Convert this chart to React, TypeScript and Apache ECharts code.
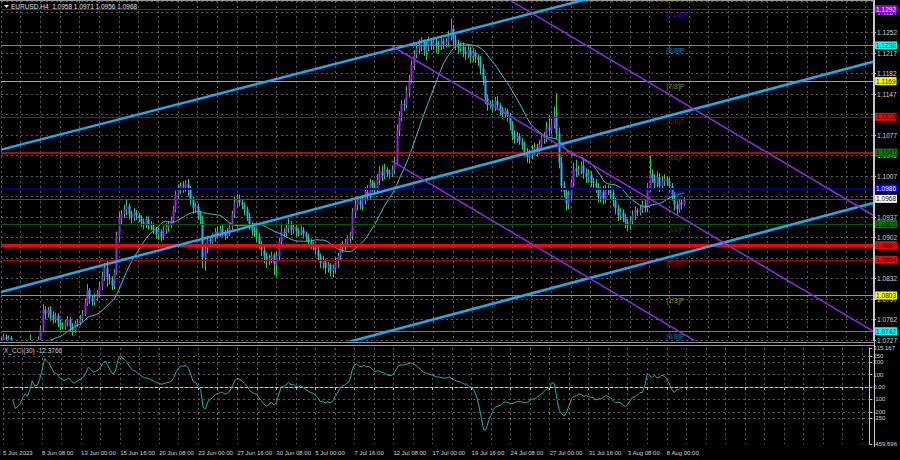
import React, { useEffect, useRef } from 'react';
import * as echarts from 'echarts';

// ---------- DATA ----------
// H4 candles: [open, close, low, high]
const candles: number[][] = [
[1.0722,1.0726,1.0716,1.0731],[1.0726,1.0733,1.0722,1.0738],[1.0733,1.0728,1.0724,1.0737],[1.0728,1.0731,1.0723,1.0735],
[1.0731,1.0719,1.0714,1.0734],[1.0719,1.0708,1.0700,1.0722],[1.0708,1.0695,1.0687,1.0712],[1.0695,1.0690,1.0678,1.0700],
[1.0690,1.0698,1.0684,1.0705],[1.0698,1.0702,1.0690,1.0710],[1.0702,1.0693,1.0686,1.0708],[1.0693,1.0712,1.0688,1.0718],
[1.0712,1.0725,1.0705,1.0736],[1.0725,1.0712,1.0702,1.0728],[1.0712,1.0716,1.0705,1.0722],[1.0716,1.0728,1.0710,1.0733],
[1.0728,1.0745,1.0724,1.0752],[1.0745,1.0778,1.0740,1.0788],[1.0778,1.0772,1.0762,1.0785],[1.0772,1.0778,1.0766,1.0783],
[1.0778,1.0770,1.0760,1.0785],[1.0770,1.0762,1.0755,1.0776],[1.0762,1.0769,1.0756,1.0774],[1.0769,1.0755,1.0749,1.0773],
[1.0755,1.0752,1.0744,1.0762],[1.0752,1.0750,1.0745,1.0757],[1.0750,1.0757,1.0745,1.0762],[1.0757,1.0762,1.0750,1.0768],
[1.0762,1.0750,1.0741,1.0766],[1.0750,1.0744,1.0734,1.0756],[1.0744,1.0754,1.0738,1.0760],[1.0754,1.0757,1.0749,1.0763],
[1.0757,1.0763,1.0752,1.0770],[1.0763,1.0772,1.0758,1.0778],[1.0772,1.0790,1.0768,1.0798],[1.0790,1.0812,1.0785,1.0823],
[1.0812,1.0798,1.0788,1.0816],[1.0798,1.0792,1.0785,1.0803],[1.0792,1.0800,1.0786,1.0806],[1.0800,1.0806,1.0794,1.0812],
[1.0806,1.0818,1.0800,1.0826],[1.0818,1.0836,1.0812,1.0844],[1.0836,1.0850,1.0828,1.0858],[1.0850,1.0834,1.0818,1.0864],
[1.0834,1.0830,1.0822,1.0840],[1.0830,1.0820,1.0812,1.0836],[1.0820,1.0842,1.0814,1.0848],[1.0842,1.0905,1.0838,1.0912],
[1.0905,1.0935,1.0895,1.0947],[1.0935,1.0942,1.0925,1.0949],[1.0942,1.0950,1.0935,1.0958],[1.0950,1.0956,1.0940,1.0966],
[1.0956,1.0942,1.0933,1.0960],[1.0942,1.0936,1.0926,1.0948],[1.0936,1.0945,1.0930,1.0952],[1.0945,1.0940,1.0932,1.0949],
[1.0940,1.0935,1.0928,1.0944],[1.0935,1.0928,1.0920,1.0940],[1.0928,1.0925,1.0916,1.0934],[1.0925,1.0933,1.0918,1.0938],
[1.0933,1.0924,1.0915,1.0938],[1.0924,1.0920,1.0914,1.0930],[1.0920,1.0915,1.0908,1.0926],[1.0915,1.0908,1.0900,1.0920],
[1.0908,1.0912,1.0898,1.0918],[1.0912,1.0903,1.0895,1.0916],[1.0903,1.0915,1.0898,1.0922],[1.0915,1.0920,1.0908,1.0926],
[1.0920,1.0925,1.0912,1.0930],[1.0925,1.0932,1.0918,1.0938],[1.0932,1.0950,1.0926,1.0956],[1.0950,1.0975,1.0945,1.0982],
[1.0975,1.0985,1.0966,1.0993],[1.0985,1.0990,1.0976,1.0996],[1.0990,1.0988,1.0978,1.0998],[1.0988,1.0994,1.0980,1.1000],
[1.0994,1.0985,1.0972,1.1002],[1.0985,1.0966,1.0958,1.0990],[1.0966,1.0952,1.0942,1.0972],[1.0952,1.0955,1.0944,1.0962],
[1.0955,1.0940,1.0932,1.0960],[1.0940,1.0932,1.0925,1.0946],[1.0932,1.0868,1.0850,1.0938],[1.0868,1.0885,1.0845,1.0892],
[1.0885,1.0898,1.0875,1.0905],[1.0898,1.0895,1.0888,1.0904],[1.0895,1.0902,1.0888,1.0910],[1.0902,1.0912,1.0895,1.0918],
[1.0912,1.0908,1.0900,1.0920],[1.0908,1.0916,1.0903,1.0922],[1.0916,1.0910,1.0904,1.0924],[1.0910,1.0905,1.0898,1.0915],
[1.0905,1.0912,1.0900,1.0918],[1.0912,1.0920,1.0905,1.0926],[1.0920,1.0942,1.0915,1.0948],[1.0942,1.0960,1.0935,1.0972],
[1.0960,1.0968,1.0952,1.0976],[1.0968,1.0962,1.0955,1.0975],[1.0962,1.0958,1.0950,1.0968],[1.0958,1.0950,1.0940,1.0962],
[1.0950,1.0938,1.0930,1.0955],[1.0938,1.0922,1.0915,1.0944],[1.0922,1.0915,1.0905,1.0928],[1.0915,1.0912,1.0903,1.0920],
[1.0912,1.0905,1.0895,1.0918],[1.0905,1.0890,1.0882,1.0910],[1.0890,1.0880,1.0870,1.0896],[1.0880,1.0870,1.0858,1.0886],
[1.0870,1.0862,1.0850,1.0876],[1.0862,1.0866,1.0855,1.0872],[1.0866,1.0872,1.0858,1.0878],[1.0872,1.0856,1.0838,1.0876],
[1.0856,1.0870,1.0835,1.0878],[1.0870,1.0895,1.0862,1.0902],[1.0895,1.0912,1.0888,1.0926],[1.0912,1.0910,1.0902,1.0918],
[1.0910,1.0918,1.0904,1.0926],[1.0918,1.0925,1.0910,1.0935],[1.0925,1.0915,1.0906,1.0930],[1.0915,1.0920,1.0908,1.0926],
[1.0920,1.0912,1.0903,1.0924],[1.0912,1.0910,1.0904,1.0918],[1.0910,1.0915,1.0905,1.0922],[1.0915,1.0908,1.0900,1.0920],
[1.0908,1.0902,1.0895,1.0912],[1.0902,1.0895,1.0888,1.0908],[1.0895,1.0890,1.0882,1.0900],[1.0890,1.0888,1.0880,1.0894],
[1.0888,1.0880,1.0872,1.0892],[1.0880,1.0870,1.0862,1.0886],[1.0870,1.0858,1.0850,1.0875],[1.0858,1.0862,1.0848,1.0870],
[1.0862,1.0850,1.0840,1.0866],[1.0850,1.0855,1.0842,1.0860],[1.0855,1.0845,1.0836,1.0858],[1.0845,1.0850,1.0834,1.0856],
[1.0850,1.0862,1.0840,1.0868],[1.0862,1.0870,1.0850,1.0876],[1.0870,1.0885,1.0862,1.0892],[1.0885,1.0888,1.0876,1.0896],
[1.0888,1.0893,1.0880,1.0900],[1.0893,1.0900,1.0885,1.0906],[1.0900,1.0905,1.0892,1.0912],[1.0905,1.0945,1.0898,1.0952],
[1.0945,1.0958,1.0935,1.0966],[1.0958,1.0965,1.0948,1.0972],[1.0965,1.0958,1.0950,1.0970],[1.0958,1.0968,1.0948,1.0975],
[1.0968,1.0980,1.0958,1.0988],[1.0980,1.0975,1.0965,1.0992],[1.0975,1.0995,1.0968,1.1002],[1.0995,1.0990,1.0980,1.1000],
[1.0990,1.0985,1.0975,1.0996],[1.0985,1.1000,1.0978,1.1010],[1.1000,1.1015,1.0992,1.1024],[1.1015,1.1008,1.0998,1.1025],
[1.1008,1.1018,1.1002,1.1028],[1.1018,1.1012,1.1005,1.1022],[1.1012,1.1010,1.1002,1.1018],[1.1010,1.1018,1.1005,1.1025],
[1.1018,1.1030,1.1010,1.1040],[1.1030,1.1085,1.1025,1.1095],[1.1085,1.1110,1.1075,1.1118],[1.1110,1.1130,1.1100,1.1136],
[1.1130,1.1128,1.1118,1.1138],[1.1128,1.1150,1.1122,1.1160],[1.1150,1.1172,1.1142,1.1180],[1.1172,1.1196,1.1165,1.1205],
[1.1196,1.1215,1.1188,1.1222],[1.1215,1.1225,1.1208,1.1232],[1.1225,1.1230,1.1215,1.1240],[1.1230,1.1235,1.1220,1.1244],
[1.1235,1.1222,1.1212,1.1240],[1.1222,1.1228,1.1205,1.1236],[1.1228,1.1238,1.1220,1.1245],[1.1238,1.1230,1.1222,1.1242],
[1.1230,1.1235,1.1222,1.1240],[1.1235,1.1230,1.1218,1.1244],[1.1230,1.1228,1.1215,1.1238],[1.1228,1.1238,1.1222,1.1246],
[1.1238,1.1232,1.1224,1.1242],[1.1232,1.1236,1.1226,1.1242],[1.1236,1.1245,1.1228,1.1255],[1.1245,1.1258,1.1238,1.1276],
[1.1258,1.1240,1.1230,1.1265],[1.1240,1.1232,1.1222,1.1248],[1.1232,1.1226,1.1215,1.1240],[1.1226,1.1228,1.1218,1.1235],
[1.1228,1.1220,1.1210,1.1235],[1.1220,1.1215,1.1205,1.1228],[1.1215,1.1222,1.1208,1.1230],[1.1222,1.1212,1.1200,1.1228],
[1.1212,1.1218,1.1202,1.1226],[1.1218,1.1210,1.1200,1.1222],[1.1210,1.1205,1.1195,1.1215],[1.1205,1.1190,1.1180,1.1212],
[1.1190,1.1172,1.1162,1.1198],[1.1172,1.1140,1.1130,1.1178],[1.1140,1.1128,1.1118,1.1146],[1.1128,1.1130,1.1122,1.1136],
[1.1130,1.1125,1.1115,1.1138],[1.1125,1.1135,1.1118,1.1142],[1.1135,1.1128,1.1120,1.1144],[1.1128,1.1120,1.1110,1.1132],
[1.1120,1.1112,1.1104,1.1125],[1.1112,1.1118,1.1106,1.1124],[1.1118,1.1110,1.1100,1.1122],[1.1110,1.1095,1.1085,1.1115],
[1.1095,1.1078,1.1068,1.1100],[1.1078,1.1070,1.1062,1.1085],[1.1070,1.1075,1.1064,1.1082],[1.1075,1.1066,1.1060,1.1080],
[1.1066,1.1060,1.1052,1.1072],[1.1060,1.1048,1.1040,1.1066],[1.1048,1.1040,1.1030,1.1055],[1.1040,1.1045,1.1028,1.1052],
[1.1045,1.1052,1.1036,1.1060],[1.1052,1.1056,1.1042,1.1064],[1.1056,1.1050,1.1040,1.1062],[1.1050,1.1062,1.1044,1.1068],
[1.1062,1.1070,1.1055,1.1078],[1.1070,1.1075,1.1062,1.1082],[1.1075,1.1090,1.1065,1.1100],[1.1090,1.1085,1.1075,1.1112],
[1.1085,1.1095,1.1078,1.1105],[1.1095,1.1110,1.1088,1.1125],[1.1110,1.1080,1.1070,1.1149],[1.1080,1.1030,1.1020,1.1090],
[1.1030,1.0990,1.0980,1.1040],[1.0990,1.0980,1.0970,1.0998],[1.0980,1.0960,1.0948,1.0986],[1.0960,1.0975,1.0950,1.0982],
[1.0975,1.0995,1.0965,1.1002],[1.0995,1.1020,1.0988,1.1030],[1.1020,1.1015,1.1005,1.1035],[1.1015,1.1018,1.1008,1.1025],
[1.1018,1.1025,1.1010,1.1032],[1.1025,1.1012,1.1002,1.1038],[1.1012,1.1005,1.0995,1.1020],[1.1005,1.1010,1.0996,1.1018],
[1.1010,1.0998,1.0988,1.1015],[1.0998,1.0995,1.0986,1.1004],[1.0995,1.0988,1.0978,1.1002],[1.0988,1.0972,1.0962,1.0995],
[1.0972,1.0980,1.0962,1.0988],[1.0980,1.0968,1.0958,1.0990],[1.0968,1.0985,1.0960,1.0992],[1.0985,1.0983,1.0975,1.0992],
[1.0983,1.0978,1.0968,1.0990],[1.0978,1.0965,1.0955,1.0984],[1.0965,1.0952,1.0942,1.0970],[1.0952,1.0940,1.0930,1.0958],
[1.0940,1.0945,1.0932,1.0952],[1.0945,1.0937,1.0928,1.0950],[1.0937,1.0928,1.0918,1.0942],[1.0928,1.0922,1.0912,1.0934],
[1.0922,1.0930,1.0915,1.0938],[1.0930,1.0940,1.0924,1.0948],[1.0940,1.0948,1.0932,1.0955],[1.0948,1.0945,1.0938,1.0952],
[1.0945,1.0950,1.0940,1.0956],[1.0950,1.0958,1.0944,1.0965],[1.0958,1.0952,1.0945,1.0966],[1.0952,1.0985,1.0945,1.0995],
[1.0985,1.1010,1.0980,1.1042],[1.1010,1.1003,1.0995,1.1018],[1.1003,1.0995,1.0985,1.1010],[1.0995,1.1005,1.0988,1.1015],
[1.1005,1.0990,1.0980,1.1012],[1.0990,1.0998,1.0982,1.1006],[1.0998,1.1002,1.0990,1.1010],[1.1002,1.0998,1.0990,1.1006],
[1.0998,1.0990,1.0980,1.1004],[1.0990,1.0975,1.0965,1.0995],[1.0975,1.0958,1.0948,1.0980],[1.0958,1.0950,1.0940,1.0965],
[1.0950,1.0962,1.0945,1.0968],[1.0962,1.0958,1.0950,1.0968],[1.0958,1.0968,1.0956,1.0971],
];

const slotCount = 356; // bar slots on the time axis (incl. empty right margin)
const tickIndex = [0, 16, 32, 48, 64, 80, 96, 112, 128, 144, 160, 176, 192, 208, 224, 240, 256, 272];
const tickLabels = ['5 Jun 2023', '8 Jun 08:00', '13 Jun 00:00', '15 Jun 16:00', '20 Jun 08:00', '23 Jun 00:00',
  '27 Jun 16:00', '30 Jun 08:00', '5 Jul 00:00', '7 Jul 16:00', '12 Jul 08:00', '17 Jul 00:00', '19 Jul 16:00',
  '24 Jul 08:00', '27 Jul 00:00', '31 Jul 16:00', '3 Aug 08:00', '8 Aug 00:00'];

const maPeriod = 20;
const cciPeriod = 30;
const cciTitle = 'X_CCI(30) -12.3766';
const chartTitle = 'EURUSD,H4  1.0958 1.0971 1.0956 1.0968';

// horizontal price levels (Murray levels, support line, bid line)
const levelPrices = [1.1292, 1.1230, 1.1169, 1.1108, 1.1047, 1.0986, 1.0968, 1.0925, 1.0889, 1.0864, 1.0803, 1.0742];
const murrayNames = ['[+1/8]P', '[8/8]P', '[7/8]P', '[6/8]P', '[5/8]P', '[4/8]P', '[3/8]P', '[2/8]P', '[1/8]P', '[0/8]P'];
const murrayPrices = [1.1292, 1.1230, 1.1169, 1.1108, 1.1047, 1.0986, 1.0925, 1.0864, 1.0803, 1.0742];
const murrayLabelBar = 272;
// scale labels that sit completely under a level's price box
const coveredTicks = ['1.1112', '1.0972', '1.0867'];

// trend channels: [barIndex, price] end points
const blueChannel = [
  [[0, 1.1052], [260, 1.1332]],
  [[0, 1.0809], [355, 1.1202]],
  [[130, 1.0711], [355, 1.0961]],
];
const purpleChannel = [
  [[200, 1.1325], [355, 1.0940]],
  [[159, 1.1229], [355, 1.0742]],
  [[159, 1.1033], [355, 1.0545]],
];

const cciLevels = [250, 200, 100, 0, -100, -200, -250];
const cciMax = 315.167;
const cciMin = -459.696;
const cciLabelValues = [315.167, 250, 200, 100, 0, -100, -200, -250, -459.696];

const priceMin = 1.0727;
const priceMax = 1.13058;
const priceStep = 0.0035;

// ---------- STYLES ----------
const FONT = "'Liberation Sans', Arial, sans-serif";
const GRID = '#5a5a5a';
const AXIS = '#c8c8c8';
const TXT = '#d4d4d4';
const levelStyle = [
  { line: '#7a00c8', w: 1, box: '#9400d3', txt: '#ffffff' },
  { line: '#00b8cc', w: 1, box: '#00ffff', txt: '#000000' },
  { line: '#b8b800', w: 1, box: '#ffff00', txt: '#000000' },
  { line: '#b40000', w: 1, box: '#ff0000', txt: '#000000' },
  { line: '#d81810', w: 1.5, box: '#008000', txt: '#000000' },
  { line: '#00008b', w: 2, box: '#0000ff', txt: '#ffffff' },
  { line: '#4a4a4a', w: 1, box: '#ffffff', txt: '#000000' },
  { line: '#005a00', w: 1, box: '#008000', txt: '#000000' },
  { line: '#ff0000', w: 3, box: '#ff0000', txt: '#000000' },
  { line: '#b40000', w: 1, box: '#ff0000', txt: '#000000' },
  { line: '#a8a800', w: 1, box: '#ffff00', txt: '#000000' },
  { line: '#00a8b0', w: 1, box: '#00ffff', txt: '#000000' },
];
const murrayColors = ['#7a10c0', '#00b0c0', '#b0b000', '#c00000', '#008a00', '#1020d0', '#007000', '#c00000', '#b0b000', '#00a8b8'];

const avg = (a: number[]) => a.reduce((s, v) => s + v, 0) / a.length;

export default function App() {
  const ref = useRef<HTMLDivElement>(null);
  useEffect(() => {
    if (!ref.current) return;
    const chart = echarts.init(ref.current, undefined, { renderer: 'svg' });

    const cats = Array.from({ length: slotCount }, (_, i) => String(i));
    const labelMap: Record<number, string> = {};
    tickIndex.forEach((ix, k) => { labelMap[ix] = tickLabels[k]; });

    const closes = candles.map(c => c[1]);
    const ma = closes.map((_, i) => (i < maPeriod - 1 ? null : avg(closes.slice(i - maPeriod + 1, i + 1))));
    const tp = candles.map(c => (c[1] + c[2] + c[3]) / 3);
    const cci = tp.map((v, i) => {
      const n = Math.min(cciPeriod, i + 1);
      if (n < 5) return null;
      const w = tp.slice(i - n + 1, i + 1);
      const m = avg(w);
      const md = avg(w.map(x => Math.abs(x - m)));
      return md ? (v - m) / (0.015 * md) : 0;
    });

    const splitX = { show: true, interval: (i: number) => i % 8 === 0, lineStyle: { color: GRID, type: [2, 3], width: 1 } };

    const option: any = {
      animation: false,
      backgroundColor: '#000000',
      textStyle: { fontFamily: FONT },
      grid: [
        { left: 1, right: 26, top: 1, height: 339 },
        { left: 1, right: 26, top: 348, height: 96 },
      ],
      xAxis: [
        {
          type: 'category', gridIndex: 0, data: cats, boundaryGap: false,
          axisLine: { show: false }, axisTick: { show: false }, axisLabel: { show: false }, splitLine: splitX,
        },
        {
          type: 'category', gridIndex: 1, data: cats, boundaryGap: false, offset: 3,
          axisLine: { show: true, lineStyle: { color: AXIS } },
          axisTick: { show: true, interval: (i: number) => i % 8 === 0, length: 3, lineStyle: { color: AXIS } },
          axisLabel: {
            show: true, interval: (i: number) => labelMap[i] !== undefined,
            formatter: (_v: string, i: number) => labelMap[i] ?? '',
            align: 'left', margin: 3, fontSize: 6, color: TXT, fontFamily: FONT,
          },
          splitLine: splitX,
        },
      ],
      yAxis: [
        {
          type: 'value', gridIndex: 0, position: 'right', min: priceMin, max: priceMax, interval: priceStep,
          axisLine: { show: true, lineStyle: { color: AXIS } },
          axisTick: { show: true, length: 3, lineStyle: { color: AXIS } },
          axisLabel: { fontSize: 6.5, color: TXT, margin: 4, showMaxLabel: false, fontFamily: FONT,
            formatter: (v: number) => (coveredTicks.includes(v.toFixed(4)) ? '' : v.toFixed(4)) },
          splitLine: { show: true, lineStyle: { color: GRID, type: [2, 3], width: 1 } },
        },
        {
          type: 'value', gridIndex: 1, position: 'right', min: cciMin, max: cciMax,
          axisLine: { show: true, lineStyle: { color: AXIS } },
          axisTick: { show: true, length: 3, customValues: cciLabelValues, lineStyle: { color: AXIS } },
          axisLabel: {
            fontSize: 6, color: TXT, margin: 4, fontFamily: FONT, customValues: cciLabelValues,
            formatter: (v: number) => {
              if (Math.abs(v - cciMax) < 1e-6) return cciMax.toFixed(3);
              if (Math.abs(v - cciMin) < 1e-6) return cciMin.toFixed(3);
              if (v === 0) return '0.00';
              return String(v);
            },
          },
          splitLine: { show: false },
        },
      ],
      series: [
        {
          type: 'custom', name: 'candles', xAxisIndex: 0, yAxisIndex: 0, z: 2, clip: true,
          data: candles.map((c, i) => [i, c[0], c[1], c[2], c[3]]),
          encode: { x: 0, y: [1, 2, 3, 4] },
          renderItem: (_p: any, api: any) => {
            const i = api.value(0);
            const o = api.value(1), c = api.value(2), l = api.value(3), h = api.value(4);
            const pO = api.coord([i, o]);
            const pC = api.coord([i, c]);
            const pL = api.coord([i, l]);
            const pH = api.coord([i, h]);
            const x = Math.round(pO[0]);
            const top = Math.min(pO[1], pC[1]);
            const bh = Math.max(1, Math.abs(pO[1] - pC[1]));
            return {
              type: 'group',
              children: [
                { type: 'line', shape: { x1: x + 0.5, y1: pH[1], x2: x + 0.5, y2: pL[1] }, style: { stroke: '#2ecc40', lineWidth: 1 } },
                { type: 'rect', shape: { x: x - 0.5, y: top, width: 2, height: bh }, style: { fill: c >= o ? '#9b1ee6' : '#1eb4f5' } },
              ],
            };
          },
        },
        {
          type: 'line', name: 'MA', xAxisIndex: 0, yAxisIndex: 0, z: 4, data: ma,
          showSymbol: false, symbol: 'none', lineStyle: { color: '#3cc8d2', width: 1 }, silent: true,
          markLine: {
            silent: true, symbol: ['none', 'none'], animation: false, precision: 4,
            data: levelPrices.map((p, k) => ({
              yAxis: p,
              lineStyle: { color: levelStyle[k].line, width: levelStyle[k].w, type: 'solid', opacity: 1 },
              label: {
                show: true, position: 'end', distance: 2, formatter: p.toFixed(4),
                backgroundColor: levelStyle[k].box, color: levelStyle[k].txt,
                padding: [1, 1, 0, 1], fontSize: 6.5, fontFamily: FONT,
              },
            })),
          },
        },
        ...blueChannel.map(pts => ({
          type: 'line', xAxisIndex: 0, yAxisIndex: 0, z: 5, data: pts, symbol: 'none', silent: true,
          lineStyle: { color: '#1eaaf0', width: 2.5 },
        })),
        ...purpleChannel.map(pts => ({
          type: 'line', xAxisIndex: 0, yAxisIndex: 0, z: 5, data: pts, symbol: 'none', silent: true,
          lineStyle: { color: '#8a2be2', width: 1.5 },
        })),
        {
          type: 'scatter', xAxisIndex: 0, yAxisIndex: 0, z: 6, symbolSize: 0, silent: true,
          data: murrayPrices.map((p, k) => ({
            value: [murrayLabelBar, p],
            label: { color: murrayColors[k] },
          })),
          label: {
            show: true, position: 'right', distance: 0, offset: [-3, 5], fontSize: 7, fontFamily: FONT,
            formatter: (pr: any) => murrayNames[pr.dataIndex],
          },
        },
        {
          type: 'line', name: 'CCI', xAxisIndex: 1, yAxisIndex: 1, z: 3, data: cci,
          showSymbol: false, symbol: 'none', lineStyle: { color: '#20b2aa', width: 1 }, silent: true,
          markLine: {
            silent: true, symbol: ['none', 'none'], animation: false, label: { show: false }, precision: 3,
            lineStyle: { color: GRID, type: [2, 3], width: 1 },
            data: cciLevels.map(v => ({ yAxis: v })),
          },
        },
      ],
      graphic: [
        { type: 'line', shape: { x1: 0, y1: 0.5, x2: 875, y2: 0.5 }, style: { stroke: '#9a9a9a', lineWidth: 1 } },
        { type: 'line', shape: { x1: 0, y1: 342.5, x2: 875, y2: 342.5 }, style: { stroke: '#9a9a9a', lineWidth: 1 } },
        { type: 'line', shape: { x1: 0, y1: 345.5, x2: 875, y2: 345.5 }, style: { stroke: '#9a9a9a', lineWidth: 1 } },
        { type: 'line', shape: { x1: 874.5, y1: 0, x2: 874.5, y2: 447 }, style: { stroke: AXIS, lineWidth: 1 } },
        { type: 'polygon', shape: { points: [[4, 5], [9, 5], [6.5, 8]] }, style: { fill: '#e8e8e8' } },
        { type: 'text', x: 11, y: 3, style: { text: chartTitle, fill: '#e0e0e0', fontSize: 6.5, fontFamily: FONT, verticalAlign: 'top' } },
        { type: 'text', x: 4, y: 347, style: { text: cciTitle, fill: '#d0d0d0', fontSize: 6.5, fontFamily: FONT, verticalAlign: 'top' } },
      ],
    };
    chart.setOption(option);
    return () => chart.dispose();
  }, []);
  return <div ref={ref} style={{ position: 'fixed', left: 0, top: 0, width: 900, height: 460 }} />;
}
